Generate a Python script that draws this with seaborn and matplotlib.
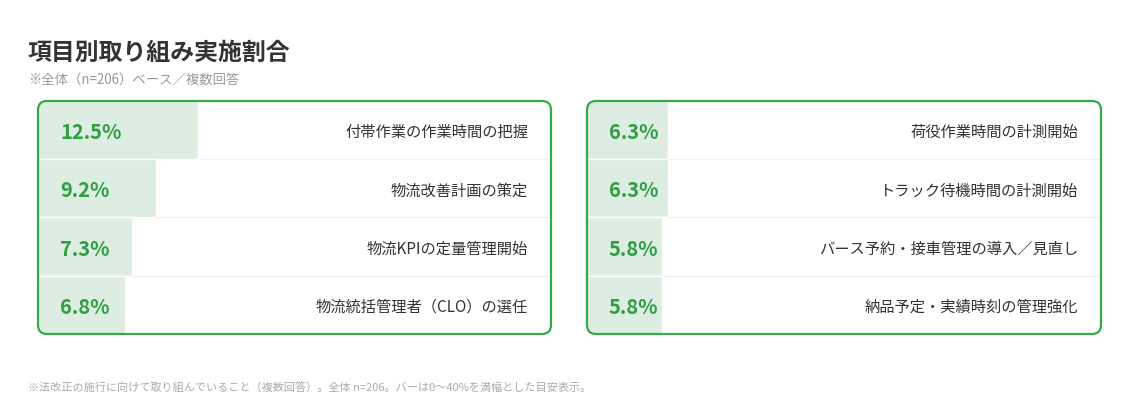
import matplotlib
matplotlib.use("Agg")
import matplotlib.pyplot as plt
import seaborn as sns
import pandas as pd
from matplotlib.patches import FancyBboxPatch

# ---- data ----
title = "項目別取り組み実施割合"
subtitle = "※全体（n=206）ベース／複数回答"
footnote = "※法改正の施行に向けて取り組んでいること（複数回答）。全体 n=206。バーは0〜40%を満幅とした目安表示。"

left_labels = ["付帯作業の作業時間の把握", "物流改善計画の策定", "物流KPIの定量管理開始", "物流統括管理者（CLO）の選任"]
left_values = [12.5, 9.2, 7.3, 6.8]
right_labels = ["荷役作業時間の計測開始", "トラック待機時間の計測開始", "バース予約・接車管理の導入／見直し", "納品予定・実績時刻の管理強化"]
right_values = [6.3, 6.3, 5.8, 5.8]
scale_max = 40

# ---- style ----
sns.set_theme(style="white")
plt.rcParams['font.family'] = ['Noto Sans CJK JP', 'DejaVu Sans']

GREEN = "#36a94a"
TEXT_GREEN = "#2f9e44"
BAR = "#deede2"
DARK = "#333333"

W, H = 1140, 420
fig = plt.figure(figsize=(W / 100, H / 100), dpi=100)
fig.patch.set_facecolor("white")


def panel(x0, y0, x1, y1, labels, values):
    ax = fig.add_axes([x0 / W, 1 - y1 / H, (x1 - x0) / W, (y1 - y0) / H])
    df = pd.DataFrame({"label": labels, "value": values})
    sns.barplot(data=df, x="value", y="label", orient="h", color=BAR,
                saturation=1, width=1.0, ax=ax, zorder=2)
    ax.set_xlim(0, scale_max)
    ax.set_ylim(len(labels) - 0.5, -0.5)
    ax.axis("off")
    for yy in range(len(labels) - 1):
        ax.axhline(yy + 0.5, color="#f0f0f0", lw=1, zorder=1)
    # rounded border in inches
    border = FancyBboxPatch((x0 / 100, (H - y1) / 100), (x1 - x0) / 100, (y1 - y0) / 100,
                            boxstyle="round,pad=0,rounding_size=0.09",
                            transform=fig.dpi_scale_trans, facecolor="none",
                            edgecolor=GREEN, lw=1.6, zorder=5)
    fig.add_artist(border)
    clip = FancyBboxPatch((x0 / 100, (H - y1) / 100), (x1 - x0) / 100, (y1 - y0) / 100,
                          boxstyle="round,pad=0,rounding_size=0.09",
                          transform=fig.dpi_scale_trans, facecolor="none", edgecolor="none")
    for p in ax.patches:
        p.set_clip_path(clip)
    for line in ax.lines:
        line.set_clip_path(clip)
    tr = ax.get_yaxis_transform()
    w = x1 - x0
    for i, (lab, v) in enumerate(zip(labels, values)):
        ax.text(22 / w, i + 0.045, f"{v:.1f}%", transform=tr, ha="left", va="center",
                fontsize=14.5, fontweight="bold", color=TEXT_GREEN, zorder=6)
        ax.text((w - 23) / w, i + 0.045, lab, transform=tr, ha="right", va="center",
                fontsize=11, color=DARK, zorder=6)
    return ax


panel(38, 101, 551, 334, left_labels, left_values)
panel(587, 101, 1101, 334, right_labels, right_values)

fig.text(28 / W, 1 - 53 / H, title, ha="left", va="center", fontsize=17.2,
         fontweight="bold", color=DARK)
fig.text(28 / W, 1 - 80 / H, subtitle, ha="left", va="center", fontsize=9.6, color="#999999")
fig.text(28 / W, 1 - 387 / H, footnote, ha="left", va="center", fontsize=8, color="#aaaaaa")

fig.savefig("out.png", dpi=100, facecolor="white")
